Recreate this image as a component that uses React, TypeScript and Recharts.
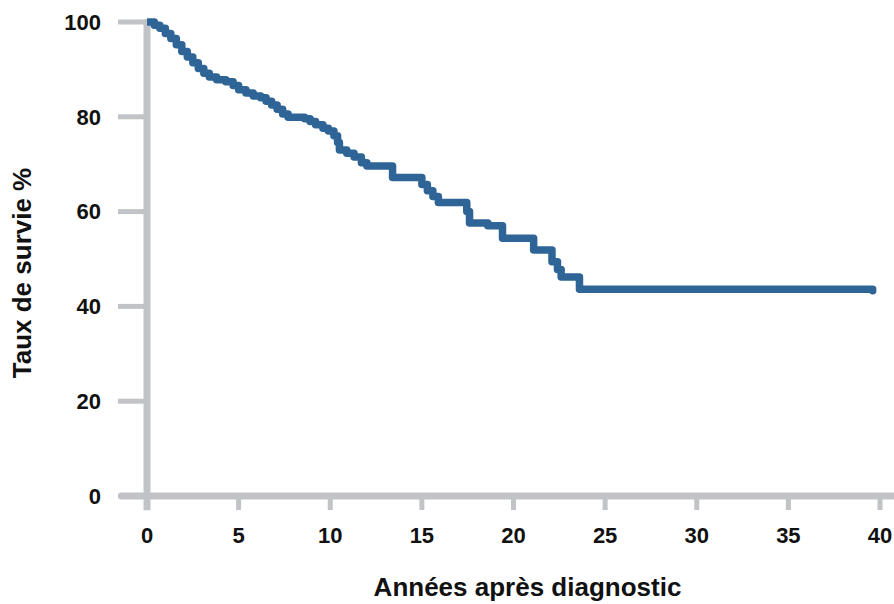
import React from 'react';
import { LineChart, Line, XAxis, YAxis, ReferenceLine } from 'recharts';

// Kaplan-Meier style survival curve (years after diagnosis, survival %)
const years = [
  0, 0.4, 0.7, 1.0, 1.3, 1.6, 1.9, 2.2, 2.5, 2.8, 3.1, 3.4, 3.8, 4.3, 4.7, 5.0,
  5.4, 5.8, 6.2, 6.5, 6.8, 7.1, 7.4, 7.7, 8.6, 8.9, 9.2, 9.6, 9.9, 10.2, 10.4,
  10.5, 10.9, 11.3, 11.7, 12.0, 13.4, 15.0, 15.3, 15.6, 15.9, 17.45, 17.6, 18.6,
  19.4, 21.1, 22.1, 22.4, 22.6, 23.6, 39.6,
];
const survival = [
  100, 99.3, 98.7, 97.6, 96.5, 95.2, 93.8, 92.6, 91.4, 90.2, 89.2, 88.4, 87.8,
  87.4, 86.6, 85.7, 85.0, 84.4, 84.0, 83.3, 82.5, 81.6, 80.6, 79.9, 79.6, 79.0,
  78.3, 77.6, 77.0, 76.0, 74.6, 73.0, 72.3, 71.5, 70.3, 69.6, 67.2, 65.7, 64.4,
  63.2, 61.9, 60.0, 57.6, 57.0, 54.4, 51.9, 49.4, 47.8, 46.2, 43.6, 43.3,
];
const xTicks = [0, 5, 10, 15, 20, 25, 30, 35, 40];
const yTicks = [0, 20, 40, 60, 80, 100];
const xTitle = 'Années après diagnostic';
const yTitle = 'Taux de survie %';

const data = years.map((t, i) => ({ t, s: survival[i] }));

const AXIS = '#c1c3c7';
const LINE = '#2f6596';
const FONT = '"Liberation Sans", Arial, sans-serif';
const tickStyle = { fill: '#111', fontSize: 22, fontWeight: 700, fontFamily: FONT };

export default function App() {
  return (
    <div style={{ position: 'absolute', left: 0, top: 0, width: 894, height: 604, background: '#fff' }}>
      <LineChart width={894} height={604} data={data} margin={{ top: 22, right: 14, bottom: 0, left: 0 }}>
        <XAxis
          dataKey="t"
          type="number"
          domain={[0, 40]}
          ticks={xTicks}
          allowDataOverflow
          axisLine={false}
          tickLine={{ stroke: AXIS, strokeWidth: 5 }}
          tickSize={14}
          tickMargin={17}
          height={108}
          tick={tickStyle}
          label={{
            value: xTitle,
            position: 'insideBottom',
            offset: 8,
            dx: 14,
            fill: '#111',
            fontSize: 26,
            fontWeight: 700,
            fontFamily: FONT,
          }}
        />
        <YAxis
          type="number"
          domain={[0, 100]}
          ticks={yTicks}
          width={147}
          axisLine={false}
          tickLine={{ stroke: AXIS, strokeWidth: 5 }}
          tickSize={29}
          tickMargin={17}
          tick={tickStyle}
          label={{
            value: yTitle,
            angle: -90,
            position: 'insideLeft',
            offset: 22,
            dy: 14,
            style: { textAnchor: 'middle' },
            fill: '#111',
            fontSize: 26,
            fontWeight: 700,
            fontFamily: FONT,
          }}
        />
        <ReferenceLine segment={[{ x: 0, y: -3 }, { x: 0, y: 100.6 }]} stroke={AXIS} strokeWidth={7} ifOverflow="visible" />
        <ReferenceLine segment={[{ x: -1.5, y: 0 }, { x: 40.8, y: 0 }]} stroke={AXIS} strokeWidth={7} ifOverflow="visible" />
        <Line
          type="stepAfter"
          dataKey="s"
          stroke={LINE}
          strokeWidth={7.5}
          strokeLinecap="round"
          strokeLinejoin="round"
          dot={false}
          isAnimationActive={false}
        />
      </LineChart>
    </div>
  );
}
